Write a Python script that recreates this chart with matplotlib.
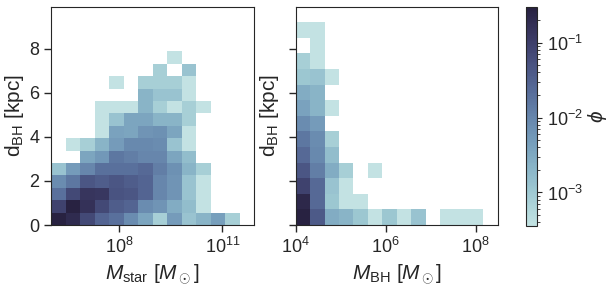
import numpy as np
import matplotlib
matplotlib.use('Agg')
import matplotlib.pyplot as plt
from matplotlib.colors import LogNorm
import seaborn as sns

nan = np.nan

# ----------------- data: log10(phi) per cell, rows from bottom -----------------
# left panel: log10 M_star bins (13) x d_BH bins (14)
mstar_lo, mstar_hi, mstar_nbins = 6.01, 11.505, 13
dstar_hi, dstar_nbins = 7.88, 14
logphi_star = [
    [-0.55, -0.7, -1.15, -1.55, -1.7, -2.1, -2.45, -3.1, -2.3, -2.9, -2.65, -2.35, -3.1],
    [-1.05, -0.55, -0.8, -1.15, -1.45, -1.55, -2.1, -2.2, -2.55, -2.8, -3.44, nan, nan],
    [-1.7, -1.15, -0.85, -0.9, -1.3, -1.35, -1.55, -2.0, -2.2, -2.9, -3.44, nan, nan],
    [-2.1, -1.8, -1.35, -1.45, -1.35, -1.45, -1.55, -2.0, -2.2, -2.9, -3.44, nan, nan],
    [-2.9, -2.3, -2.0, -1.7, -1.7, -1.7, -1.6, -1.9, -2.15, -2.65, -3.1, nan, nan],
    [nan, nan, -2.45, -2.25, -1.8, -1.9, -2.0, -2.0, -2.45, -2.8, nan, nan, nan],
    [nan, -3.44, -3.1, -2.65, -2.3, -2.05, -2.05, -2.1, -2.9, -3.44, nan, nan, nan],
    [nan, nan, nan, -3.44, -2.4, -2.45, -2.2, -2.15, -2.45, -3.44, nan, nan, nan],
    [nan, nan, nan, -3.44, -2.9, -2.45, -2.45, -2.65, -2.65, -3.1, nan, nan, nan],
    [nan, nan, nan, -3.44, -3.44, -3.44, -2.65, -3.1, -3.44, -3.1, -3.44, nan, nan],
    [nan, nan, nan, nan, nan, nan, -2.65, -2.9, -2.9, -3.44, nan, nan, nan],
    [nan, nan, nan, nan, -3.44, nan, -3.1, -3.1, -3.1, -3.44, nan, nan, nan],
    [nan, nan, nan, nan, nan, nan, nan, -3.1, nan, -2.9, nan, nan, nan],
    [nan, nan, nan, nan, nan, nan, nan, nan, -3.44, nan, nan, nan, nan],
]

# right panel: log10 M_BH bins (13) x d_BH bins (13)
mbh_lo, mbh_hi, mbh_nbins = 4.0, 8.17, 13
dbh_hi, dbh_nbins = 9.21, 13
logphi_bh = [
    [-0.55, -1.4, -2.55, -2.65, -2.95, -3.44, -2.95, -3.44, -2.9, nan, -3.44, -3.44, -3.44],
    [-0.65, -1.6, -2.95, -3.44, -3.44, nan, nan, nan, nan, nan, nan, nan, nan],
    [-1.05, -1.6, -2.9, -3.44, nan, nan, nan, nan, nan, nan, nan, nan, nan],
    [-1.35, -1.9, -2.55, -3.1, nan, -3.44, nan, nan, nan, nan, nan, nan, nan],
    [-1.6, -2.05, -2.8, nan, nan, nan, nan, nan, nan, nan, nan, nan, nan],
    [-1.8, -2.1, -3.1, nan, nan, nan, nan, nan, nan, nan, nan, nan, nan],
    [-2.1, -2.3, nan, nan, nan, nan, nan, nan, nan, nan, nan, nan, nan],
    [-2.4, -2.65, -3.44, nan, nan, nan, nan, nan, nan, nan, nan, nan, nan],
    [-2.55, -2.65, nan, nan, nan, nan, nan, nan, nan, nan, nan, nan, nan],
    [-2.95, -2.9, -3.44, nan, nan, nan, nan, nan, nan, nan, nan, nan, nan],
    [-3.1, -3.44, nan, nan, nan, nan, nan, nan, nan, nan, nan, nan, nan],
    [nan, -3.44, nan, nan, nan, nan, nan, nan, nan, nan, nan, nan, nan],
    [-3.44, -3.44, nan, nan, nan, nan, nan, nan, nan, nan, nan, nan, nan],
]

phi_min, phi_max = 3.6e-4, 0.296

# ----------------- style -----------------
sns.set_style('ticks')
plt.rcParams['font.family'] = ['Liberation Sans', 'DejaVu Sans']
plt.rcParams['mathtext.fontset'] = 'custom'
plt.rcParams['mathtext.rm'] = 'Liberation Sans'
plt.rcParams['mathtext.it'] = 'Liberation Sans:italic'
plt.rcParams['mathtext.bf'] = 'Liberation Sans:bold'

cmap = sns.color_palette('ch:start=.2,rot=-.3', as_cmap=True)
norm = LogNorm(vmin=phi_min, vmax=phi_max)

fig = plt.figure(figsize=(6.14, 2.92), dpi=100)
W, H = 614., 292.
ax1 = fig.add_axes([51 / W, 1 - 225 / H, 203 / W, 218 / H])
ax2 = fig.add_axes([295.7 / W, 1 - 225 / H, 202.6 / W, 218 / H])
cax = fig.add_axes([526 / W, 1 - 225.7 / H, 11 / W, 218.4 / H])


def draw(ax, logphi, xlo, xhi, nx, yhi, ny):
    z = np.ma.masked_invalid(10 ** np.array(logphi, dtype=float))
    xe = np.logspace(xlo, xhi, nx + 1)
    ye = np.linspace(0, yhi, ny + 1)
    return ax.pcolormesh(xe, ye, z, cmap=cmap, norm=norm)


m = draw(ax1, logphi_star, mstar_lo, mstar_hi, mstar_nbins, dstar_hi, dstar_nbins)
draw(ax2, logphi_bh, mbh_lo, mbh_hi, mbh_nbins, dbh_hi, dbh_nbins)

for ax in (ax1, ax2):
    ax.set_xscale('log')
    ax.set_ylim(0, 9.9)
    ax.set_yticks([0, 2, 4, 6, 8])
    ax.minorticks_off()
    ax.tick_params(labelsize=13, length=5, width=1, color='#262626')
    for s in ax.spines.values():
        s.set_color('#262626')
    ax.set_ylabel(r'd$_{\rm BH}$ [kpc]', fontsize=15, labelpad=2)

ax1.set_xlim(10 ** 6.01, 10 ** 11.92)
ax1.set_xticks([1e8, 1e11])
ax1.minorticks_off()
ax1.set_xlabel(r'$M_{\rm star}$ [$M_\odot$]', fontsize=15)

ax2.set_xlim(1e4, 10 ** 8.5)
ax2.set_xticks([1e4, 1e6, 1e8])
ax2.minorticks_off()
ax2.set_yticklabels([])
ax2.set_xlabel(r'$M_{\rm BH}$ [$M_\odot$]', fontsize=15)

cb = fig.colorbar(m, cax=cax)
cb.ax.tick_params(labelsize=13, color='#262626')
cb.outline.set_edgecolor('#262626')
cb.set_label(r'$\phi$', fontsize=15, labelpad=2)

fig.savefig('out.png', dpi=100)
